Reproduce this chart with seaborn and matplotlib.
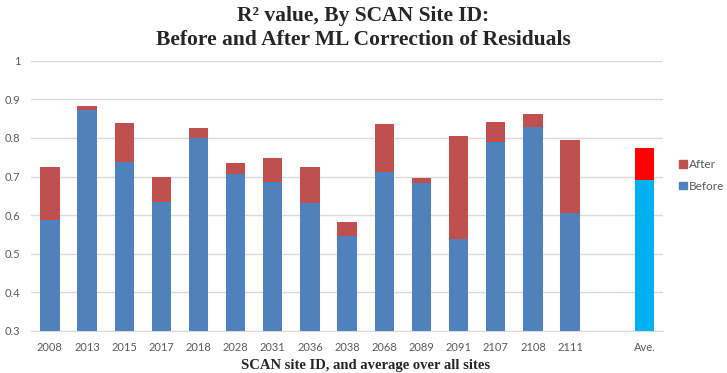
import matplotlib
matplotlib.use('Agg')
import matplotlib.pyplot as plt
import seaborn as sns
import pandas as pd
from matplotlib.patches import Patch

# ======================================
# Data
# ======================================

sites = ['2008', '2013', '2015', '2017', '2018', '2028', '2031', '2036',
         '2038', '2068', '2089', '2091', '2107', '2108', '2111', 'Ave.']
before = [0.588, 0.873, 0.737, 0.634, 0.799, 0.706, 0.685, 0.632,
          0.545, 0.713, 0.683, 0.538, 0.789, 0.828, 0.605, 0.691]
after = [0.724, 0.884, 0.838, 0.698, 0.827, 0.735, 0.749, 0.724,
         0.583, 0.836, 0.697, 0.806, 0.841, 0.862, 0.794, 0.774]

# blank slot between the sites and the average
order = sites[:-1] + [' '] + ['Ave.']

df = pd.DataFrame({'site': sites, 'before': before, 'after': after})

blue, red = '#4F81BD', '#C0504D'
ave_blue, ave_red = '#00B0F0', '#FF0000'
pal_after = {s: (ave_red if s == 'Ave.' else red) for s in sites}
pal_before = {s: (ave_blue if s == 'Ave.' else blue) for s in sites}

# ======================================
# Plot
# ======================================

sns.set_style('white')
plt.rcParams['font.family'] = ['Lato', 'DejaVu Sans']

fig = plt.figure(figsize=(7.27, 3.73), dpi=100)
ax = fig.add_axes([0.043, 0.113, 0.869, 0.724])

sns.barplot(data=df, x='site', y='after', hue='site', order=order,
            palette=pal_after, width=0.52, saturation=1, legend=False,
            linewidth=0, ax=ax)
sns.barplot(data=df, x='site', y='before', hue='site', order=order,
            palette=pal_before, width=0.52, saturation=1, legend=False,
            linewidth=0, ax=ax)

ax.set_ylim(0.3, 1.0)
ax.set_xlim(-0.5, len(order) - 0.5)
ax.set_yticks([0.3, 0.4, 0.5, 0.6, 0.7, 0.8, 0.9, 1.0])
ax.set_yticklabels(['0.3', '0.4', '0.5', '0.6', '0.7', '0.8', '0.9', '1'])
ax.yaxis.grid(True, color='#D9D9D9', linewidth=1)
ax.set_axisbelow(True)
for s in ['top', 'right', 'left']:
    ax.spines[s].set_visible(False)
ax.spines['bottom'].set_color('#D9D9D9')
ax.tick_params(axis='both', length=0, labelsize=8, labelcolor='#595959')
ax.tick_params(axis='x', pad=8)
ax.tick_params(axis='y', pad=8)
ax.set_xlabel('')
ax.set_ylabel('')

fig.text(0.5, 0.985,
         'R² value, By SCAN Site ID:\nBefore and After ML Correction of Residuals',
         ha='center', va='top', fontsize=15.5, fontweight='bold',
         family='Liberation Serif', color='#262626', linespacing=1.3)
fig.text(0.503, 0.004, 'SCAN site ID, and average over all sites',
         ha='center', va='bottom', fontsize=10.5, fontweight='bold',
         family='Liberation Serif', color='#262626')

handles = [Patch(color=red, label='After'), Patch(color=blue, label='Before')]
fig.legend(handles=handles, loc='center left', bbox_to_anchor=(0.92, 0.53),
           frameon=False, fontsize=8.5, labelcolor='#595959',
           handlelength=0.6, handleheight=0.6, handletextpad=0.2,
           labelspacing=0.9)

plt.savefig('out.png', dpi=100)
